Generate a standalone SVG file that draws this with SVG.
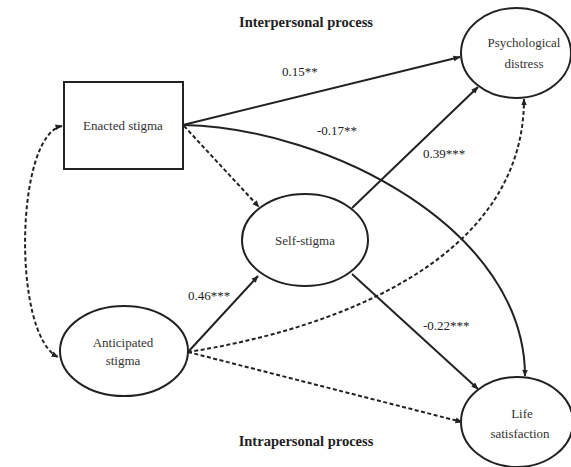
<svg xmlns="http://www.w3.org/2000/svg" width="571" height="467" viewBox="0 0 571 467">
  <style>
    .node { fill: #fff; stroke: #222; stroke-width: 2; }
    .lbl { font-family: "Liberation Serif", "Times New Roman", serif; font-size: 13px; fill: #333; text-anchor: middle; }
    .coef { font-family: "Liberation Serif", "Times New Roman", serif; font-size: 13px; fill: #222; }
    .head { font-family: "Liberation Serif", "Times New Roman", serif; font-size: 14.5px; font-weight: bold; fill: #222; text-anchor: middle; }
    .path { fill: none; stroke: #222; stroke-width: 2; }
    .dash { stroke-dasharray: 4 2.5; }
  </style>
  <defs>
    <marker id="arrow" viewBox="0 0 10 10" refX="9" refY="5" markerWidth="3.6" markerHeight="3.6" orient="auto-start-reverse" markerUnits="strokeWidth">
      <path d="M0,1 L10,5 L0,9 z" fill="#222"/>
    </marker>
  </defs>

  <rect width="571" height="467" fill="#fff"/>

  <!-- section headings -->
  <text class="head" x="306" y="27">Interpersonal process</text>
  <text class="head" x="306" y="446">Intrapersonal process</text>

  <!-- connectors -->
  <g id="connectors">
    <path class="path" d="M183,125 L460,57" marker-end="url(#arrow)"/>
    <path class="path" d="M183,125 C330,128 525,230 525,376" marker-end="url(#arrow)"/>
    <path class="path dash" d="M184,126 L259,207" marker-end="url(#arrow)"/>
    <path class="path" d="M352,208 L478,87" marker-end="url(#arrow)"/>
    <path class="path" d="M188,352 L258,276" marker-end="url(#arrow)"/>
    <path class="path" d="M352,274 L478,389" marker-end="url(#arrow)"/>
    <path class="path dash" d="M188,352 C330,330 524,262 524,99" marker-end="url(#arrow)"/>
    <path class="path dash" d="M188,352 L462,422" marker-end="url(#arrow)"/>
    <path class="path dash" d="M62,126 C15,135 12,335 58,357" marker-start="url(#arrow)" marker-end="url(#arrow)"/>
  </g>

  <!-- path coefficients -->
  <text class="coef" x="282" y="76">0.15**</text>
  <text class="coef" x="317" y="135">-0.17**</text>
  <text class="coef" x="423" y="158">0.39***</text>
  <text class="coef" x="188" y="300">0.46***</text>
  <text class="coef" x="423" y="330">-0.22***</text>

  <g id="enacted-stigma">
    <rect class="node" x="64" y="82" width="119" height="87"/>
    <text class="lbl" x="123" y="130">Enacted stigma</text>
  </g>

  <g id="self-stigma">
    <ellipse class="node" cx="305" cy="240" rx="63" ry="46"/>
    <text class="lbl" x="305" y="245">Self-stigma</text>
  </g>

  <g id="anticipated-stigma">
    <ellipse class="node" cx="124" cy="351" rx="64" ry="45"/>
    <text class="lbl" x="123" y="347">Anticipated</text>
    <text class="lbl" x="123" y="365">stigma</text>
  </g>

  <g id="psychological-distress">
    <ellipse class="node" cx="516" cy="53" rx="55" ry="45"/>
    <text class="lbl" x="524" y="47">Psychological</text>
    <text class="lbl" x="524" y="68">distress</text>
  </g>

  <g id="life-satisfaction">
    <ellipse class="node" cx="517" cy="422" rx="56" ry="45"/>
    <text class="lbl" x="522" y="418">Life</text>
    <text class="lbl" x="520" y="438">satisfaction</text>
  </g>
</svg>
